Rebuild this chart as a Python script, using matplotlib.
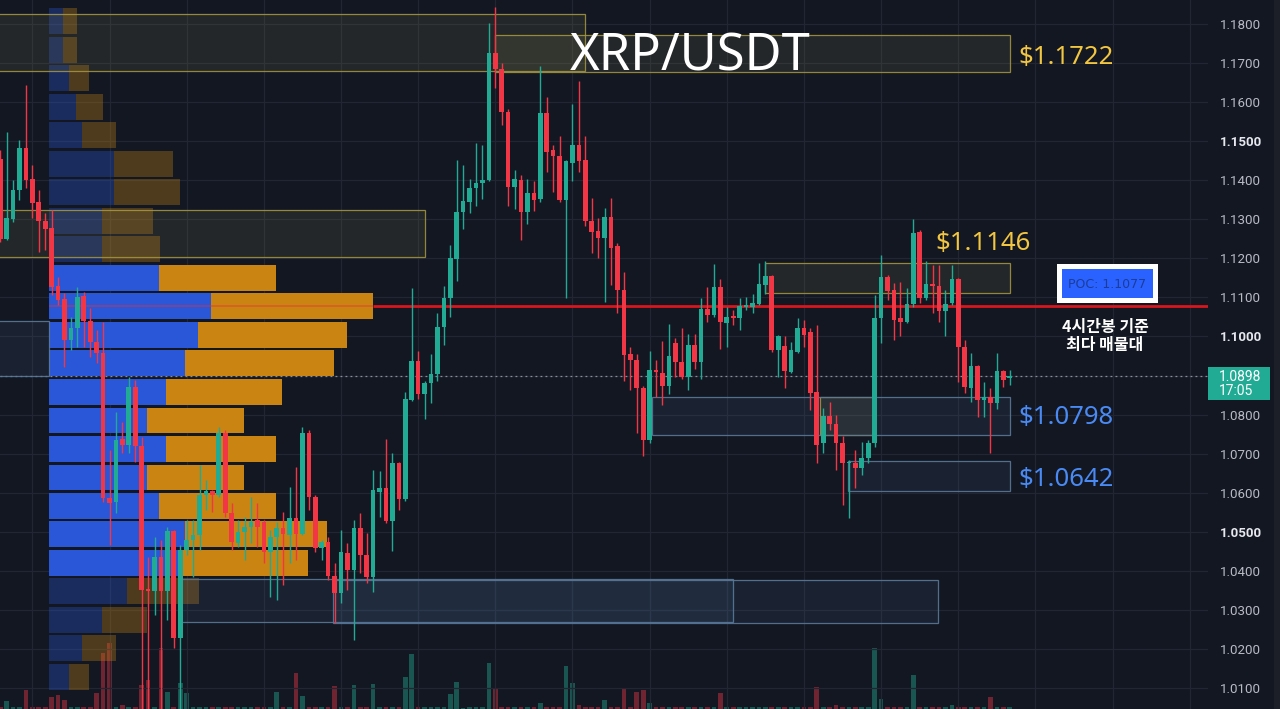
import matplotlib
matplotlib.use("Agg")
import matplotlib.pyplot as plt
from matplotlib.patches import Rectangle
import numpy as np

BG = "#131722"
GRID = "#222632"
UP = "#22ab94"
DOWN = "#f23645"
YEL = "#f2c641"
BLUE_TXT = "#4a8af4"
VP_BLUE = "#2a56d8"
VP_ORANGE = "#c98412"
W, H = 1280, 709

# 4h candles, oldest first
opens = [1.1454, 1.1250, 1.1301, 1.1375, 1.1483, 1.1403, 1.1344, 1.1296, 1.1278, 1.1129,
         1.1096, 1.0991, 1.1022, 1.1104, 1.1040, 1.0986, 1.0958, 1.0587, 1.0576, 1.0738,
         1.0722, 1.0871, 1.0720, 1.0354, 1.0348, 1.0435, 1.0348, 1.0502, 1.0228, 1.0453,
         1.0479, 1.0492, 1.0594, 1.0604, 1.0594, 1.0753, 1.0548, 1.0471, 1.0499, 1.0512,
         1.0530, 1.0525, 1.0448, 1.0487, 1.0510, 1.0492, 1.0535, 1.0494, 1.0753, 1.0589,
         1.0459, 1.0474, 1.0387, 1.0343, 1.0446, 1.0402, 1.0510, 1.0441, 1.0384, 1.0602,
         1.0612, 1.0528, 1.0676, 1.0584, 1.0837, 1.0937, 1.0853, 1.0881, 1.0904, 1.1024,
         1.1099, 1.1198, 1.1319, 1.1344, 1.1380, 1.1393, 1.1401, 1.1726, 1.1685, 1.1575,
         1.1383, 1.1401, 1.1319, 1.1367, 1.1352, 1.1572, 1.1477, 1.1462, 1.1349, 1.1444,
         1.1491, 1.1453, 1.1296, 1.1270, 1.1252, 1.1306, 1.1232, 1.1120, 1.0956, 1.0940,
         1.0868, 1.0735, 1.0915, 1.0907, 1.0874, 1.0983, 1.0935, 1.0896, 1.0978, 1.0935,
         1.1070, 1.1055, 1.1126, 1.1035, 1.1052, 1.1047, 1.1076, 1.1076, 1.1083, 1.1132,
         1.1155, 1.0965, 1.0976, 1.0910, 1.0961, 1.1021, 1.1012, 1.0859, 1.0727, 1.0797,
         1.0776, 1.0727, 1.0675, 1.0675, 1.0663, 1.0688, 1.0727, 1.1047, 1.1153, 1.1119,
         1.1047, 1.1038, 1.1083, 1.1267, 1.1098, 1.1134, 1.1129, 1.1064, 1.1085, 1.1147,
         1.0974, 1.0867, 1.0925, 1.0837, 1.0846, 1.0830, 1.0912, 1.0893]
highs = [1.1477, 1.1523, 1.1401, 1.1503, 1.1644, 1.1439, 1.1375, 1.1316, 1.1324, 1.1152,
         1.1111, 1.1050, 1.1127, 1.1114, 1.1073, 1.1017, 1.1037, 1.0709, 1.0807, 1.0781,
         1.0896, 1.0889, 1.0743, 1.0435, 1.0487, 1.0479, 1.0512, 1.0505, 1.0466, 1.0530,
         1.0530, 1.0671, 1.0633, 1.0607, 1.0768, 1.0761, 1.0574, 1.0530, 1.0538, 1.0589,
         1.0574, 1.0530, 1.0505, 1.0525, 1.0551, 1.0615, 1.0666, 1.0768, 1.0761, 1.0594,
         1.0479, 1.0487, 1.0420, 1.0505, 1.0471, 1.0530, 1.0548, 1.0497, 1.0658, 1.0656,
         1.0738, 1.0702, 1.0679, 1.0858, 1.1124, 1.0963, 1.0886, 1.0955, 1.1060, 1.1129,
         1.1234, 1.1452, 1.1439, 1.1403, 1.1495, 1.1490, 1.1803, 1.1843, 1.1700, 1.1582,
         1.1426, 1.1413, 1.1403, 1.1398, 1.1692, 1.1613, 1.1491, 1.1513, 1.1453, 1.1595,
         1.1655, 1.1513, 1.1355, 1.1303, 1.1328, 1.1355, 1.1240, 1.1164, 1.0973, 1.0956,
         1.0874, 1.0962, 1.0940, 1.0989, 1.1033, 1.0995, 1.1022, 1.1006, 1.1006, 1.1099,
         1.1126, 1.1186, 1.1147, 1.1076, 1.1068, 1.1099, 1.1102, 1.1110, 1.1187, 1.1192,
         1.1157, 1.1004, 1.1000, 1.0987, 1.1047, 1.1042, 1.1021, 1.1029, 1.0816, 1.0833,
         1.0799, 1.0744, 1.0684, 1.0709, 1.0731, 1.0735, 1.1106, 1.1209, 1.1157, 1.1136,
         1.1140, 1.1124, 1.1302, 1.1273, 1.1192, 1.1183, 1.1183, 1.1119, 1.1183, 1.1149,
         1.0991, 1.0957, 1.0927, 1.0884, 1.0867, 1.0958, 1.0914, 1.0914]
lows = [1.1242, 1.1247, 1.1293, 1.1349, 1.1380, 1.1303, 1.1216, 1.1221, 1.1106, 1.1081,
        1.0922, 1.0965, 1.0973, 1.0973, 1.0947, 1.0932, 1.0576, 1.0466, 1.0548, 1.0702,
        1.0702, 1.0679, 1.0020, 1.0020, 1.0287, 1.0020, 1.0274, 1.0203, 1.0020, 1.0441,
        1.0384, 1.0453, 1.0556, 1.0551, 1.0589, 1.0538, 1.0453, 1.0461, 1.0428, 1.0471,
        1.0461, 1.0420, 1.0333, 1.0325, 1.0364, 1.0420, 1.0428, 1.0492, 1.0556, 1.0448,
        1.0428, 1.0377, 1.0267, 1.0318, 1.0351, 1.0223, 1.0395, 1.0369, 1.0346, 1.0538,
        1.0523, 1.0451, 1.0556, 1.0580, 1.0835, 1.0840, 1.0789, 1.0830, 1.0886, 1.0978,
        1.1050, 1.1142, 1.1275, 1.1316, 1.1334, 1.1352, 1.1398, 1.1636, 1.1541, 1.1334,
        1.1326, 1.1247, 1.1288, 1.1321, 1.1344, 1.1421, 1.1371, 1.1344, 1.1099, 1.1398,
        1.1421, 1.1284, 1.1214, 1.1202, 1.1088, 1.1132, 1.1060, 1.0886, 1.0863, 1.0754,
        1.0694, 1.0727, 1.0844, 1.0825, 1.0853, 1.0896, 1.0891, 1.0863, 1.0918, 1.0891,
        1.1038, 1.1050, 1.0968, 1.0974, 1.1029, 1.1017, 1.1068, 1.1059, 1.1081, 1.1110,
        1.0961, 1.0897, 1.0867, 1.0906, 1.0957, 1.0974, 1.0812, 1.0675, 1.0701, 1.0761,
        1.0658, 1.0569, 1.0535, 1.0611, 1.0645, 1.0675, 1.0718, 1.0983, 1.1093, 1.0991,
        1.1000, 1.1034, 1.1076, 1.1085, 1.1093, 1.1059, 1.1038, 1.1000, 1.1081, 1.0884,
        1.0855, 1.0833, 1.0795, 1.0795, 1.0701, 1.0814, 1.0870, 1.0876]
closes = [1.1250, 1.1303, 1.1375, 1.1483, 1.1401, 1.1342, 1.1296, 1.1275, 1.1127, 1.1093,
          1.0991, 1.1022, 1.1101, 1.1040, 1.0986, 1.0958, 1.0587, 1.0574, 1.0735, 1.0722,
          1.0871, 1.0720, 1.0351, 1.0348, 1.0435, 1.0348, 1.0502, 1.0228, 1.0453, 1.0479,
          1.0492, 1.0594, 1.0604, 1.0594, 1.0753, 1.0548, 1.0474, 1.0499, 1.0512, 1.0525,
          1.0512, 1.0448, 1.0487, 1.0510, 1.0494, 1.0535, 1.0494, 1.0753, 1.0589, 1.0459,
          1.0474, 1.0387, 1.0343, 1.0448, 1.0402, 1.0510, 1.0441, 1.0384, 1.0607, 1.0612,
          1.0528, 1.0676, 1.0584, 1.0840, 1.0937, 1.0853, 1.0881, 1.0904, 1.1024, 1.1099,
          1.1201, 1.1319, 1.1347, 1.1380, 1.1393, 1.1401, 1.1726, 1.1685, 1.1575, 1.1383,
          1.1403, 1.1319, 1.1367, 1.1349, 1.1572, 1.1472, 1.1462, 1.1349, 1.1448, 1.1491,
          1.1448, 1.1296, 1.1267, 1.1252, 1.1306, 1.1227, 1.1120, 1.0953, 1.0940, 1.0868,
          1.0735, 1.0913, 1.0909, 1.0874, 1.0951, 1.0935, 1.0896, 1.0978, 1.0935, 1.1070,
          1.1055, 1.1126, 1.1038, 1.1051, 1.1047, 1.1078, 1.1081, 1.1085, 1.1134, 1.1155,
          1.0965, 1.1000, 1.0912, 1.0965, 1.1021, 1.1004, 1.0856, 1.0722, 1.0797, 1.0776,
          1.0727, 1.0675, 1.0679, 1.0663, 1.0688, 1.0727, 1.1047, 1.1153, 1.1117, 1.1042,
          1.1038, 1.1083, 1.1264, 1.1098, 1.1134, 1.1128, 1.1064, 1.1083, 1.1147, 1.0974,
          1.0871, 1.0925, 1.0837, 1.0846, 1.0830, 1.0912, 1.0888, 1.0898]
volume = [2, 8, 2, 2, 19, 2, 2, 2, 12, 14,
          9, 2, 2, 2, 2, 16, 56, 66, 2, 4,
          2, 2, 24, 29, 2, 61, 17, 2, 26, 16,
          2, 2, 2, 2, 2, 2, 2, 2, 2, 2,
          2, 2, 2, 17, 2, 2, 36, 13, 2, 2,
          2, 2, 23, 2, 2, 24, 2, 2, 25, 2,
          2, 2, 2, 32, 55, 2, 2, 2, 2, 2,
          15, 27, 1, 2, 2, 2, 46, 21, 2, 2,
          2, 2, 2, 2, 6, 2, 2, 2, 43, 26,
          4, 2, 2, 2, 9, 2, 2, 21, 2, 17,
          19, 6, 2, 2, 2, 2, 2, 2, 2, 2,
          2, 2, 16, 2, 2, 2, 2, 2, 2, 2,
          2, 2, 2, 2, 2, 2, 2, 22, 2, 2,
          4, 2, 2, 2, 2, 2, 61, 10, 2, 2,
          2, 2, 34, 2, 2, 2, 2, 2, 4, 2,
          2, 2, 2, 2, 12, 2, 2, 2]

# visible range volume profile (rows top -> bottom)
vp_price = [1.1807, 1.1734, 1.1661, 1.1588, 1.1515, 1.1442, 1.1369, 1.1296, 1.1223, 1.1150,
            1.1077, 1.1004, 1.0931, 1.0858, 1.0785, 1.0712, 1.0639, 1.0567, 1.0494, 1.0421,
            1.0348, 1.0275, 1.0202, 1.0129]
vp_up = [13.7, 13.7, 20, 26.7, 33.3, 65.3, 65.3, 52.7, 52.7, 110.3,
         162, 149, 136, 117, 97.7, 117, 97.7, 110.3, 136.3, 131,
         78.3, 52.7, 33.3, 20]
vp_down = [14.3, 14.3, 20, 27, 33.4, 58.7, 65.4, 51.6, 58.3, 117,
           161.7, 149.3, 149, 116.3, 97, 110.3, 97, 117, 142, 128.3,
           71.4, 45, 33.4, 20]
value_area = (9, 19)
poc = 1.1077
last_price = 1.0898

# (start candle, end candle, top, bottom)
supply_zones = [(-1, 91, 1.1826, 1.1680), (77, 157, 1.1772, 1.1677), (-1, 66, 1.1324, 1.1204),
                (119, 157, 1.1188, 1.1111), (127.5, 135.7, 1.0845, 1.0748)]
demand_zones = [(101.4, 157, 1.0845, 1.0748), (131.9, 157, 1.0681, 1.0604),
                (28.1, 114, 1.0379, 1.0269), (51.8, 145.9, 1.0377, 1.0267),
                (-1, 7.6, 1.1040, 1.0899)]

price_ticks = [round(1.01 + 0.01 * k, 2) for k in range(18)]

fig = plt.figure(figsize=(W / 100, H / 100), dpi=100)
fig.patch.set_facecolor(BG)
rect = [0, 0, 1208 / W, 1]
XMIN, XMAX = -0.03, 187.84
YMIN, YMAX = 1.00464, 1.18614

axv = fig.add_axes(rect)
ax = fig.add_axes(rect)
ax.patch.set_visible(False)
axv.set_facecolor(BG)
axv.set_xlim(XMIN, XMAX)
axv.set_ylim(0, H)
axv.axis("off")

x = np.arange(len(opens))
o, h, l, c = (np.array(v) for v in (opens, highs, lows, closes))
rising = c >= o
cols = np.where(rising, UP, DOWN)

axv.bar(x, volume, width=0.72, color=cols, alpha=0.42, linewidth=0)

ax.set_xlim(XMIN, XMAX)
ax.set_ylim(YMIN, YMAX)
for s in ax.spines.values():
    s.set_visible(False)
ax.set_xticks(np.arange(5, 188, 12))
ax.set_yticks(price_ticks)
ax.set_yticklabels([f"{t:.4f}" for t in price_ticks])
ax.yaxis.tick_right()
ax.tick_params(axis="x", length=0, labelbottom=False)
ax.tick_params(axis="y", length=0, pad=8.6, labelsize=9.6, labelcolor="#b8bbc4")
for lab, t in zip(ax.get_yticklabels(), price_ticks):
    lab.set_fontfamily("Roboto")
    if round(t * 100) % 5 == 0:
        lab.set_fontweight("bold")
        lab.set_color("#e6e8ee")
ax.grid(True, color=GRID, lw=0.9, zorder=0)
ax.set_axisbelow(True)

# last price dotted line
ax.axhline(last_price, color="#8a8e99", lw=0.9, ls=(0, (1.5, 2.5)), zorder=1)

# volume profile
vp_x0 = 7.6
tot = np.array(vp_up) + np.array(vp_down)
scale = 0.268 * (XMAX - XMIN) / tot.max()
row_h = 0.0073 * 0.91
for k, (p, u, d) in enumerate(zip(vp_price, vp_up, vp_down)):
    inside = value_area[0] <= k <= value_area[1]
    a = 1.0 if inside else 0.33
    ax.barh(p, u * scale, left=vp_x0, height=row_h, color=VP_BLUE, alpha=a, lw=0, zorder=2)
    ax.barh(p, d * scale, left=vp_x0 + u * scale, height=row_h, color=VP_ORANGE, alpha=a,
            lw=0, zorder=2)

# zones
for x1, x2, top, bot in supply_zones:
    ax.add_patch(Rectangle((x1, bot), x2 - x1, top - bot, facecolor="#a39c5c", alpha=0.12,
                           lw=0, zorder=3))
    ax.add_patch(Rectangle((x1, bot), x2 - x1, top - bot, facecolor="none",
                           edgecolor="#a89a40", lw=0.9, alpha=0.85, zorder=3))
for x1, x2, top, bot in demand_zones:
    ax.add_patch(Rectangle((x1, bot), x2 - x1, top - bot, facecolor="#5b86b8", alpha=0.1,
                           lw=0, zorder=3))
    ax.add_patch(Rectangle((x1, bot), x2 - x1, top - bot, facecolor="none",
                           edgecolor="#5a7899", lw=0.9, alpha=0.9, zorder=3))

# POC line
k_poc = vp_price.index(poc)
poc_end = vp_x0 + tot[k_poc] * scale
ax.hlines(poc, vp_x0, poc_end, color="#e8323c", lw=1.2, alpha=0.5, zorder=3.5)
ax.hlines(poc, poc_end, XMAX, color="#d8161e", lw=2.0, zorder=3.5)

# candles
ax.vlines(x, l, h, colors=cols, lw=1.0, zorder=5)
ax.bar(x, np.maximum(np.abs(c - o), 0.00025), bottom=np.minimum(o, c), width=0.72,
       color=cols, lw=0, zorder=5.1)


def fx(px):
    return px / W


def fy(py):
    return 1 - py / H


def fig_rect(x1, y1, x2, y2, **kw):
    fig.add_artist(Rectangle((fx(x1), fy(y2)), fx(x2 - x1), (y2 - y1) / H,
                             transform=fig.transFigure, **kw))


# right edge strip
fig_rect(1274, 0, 1280, H, facecolor="#1c1f28", lw=0)

# last price tag
fig_rect(1208, 367, 1270, 400, facecolor=UP, lw=0)
fig.text(fx(1219), fy(377), f"{last_price:.4f}", color="white", fontsize=10,
         family="Roboto", ha="left", va="center")
fig.text(fx(1219), fy(391), "17:05", color="white", fontsize=10, family="Roboto",
         ha="left", va="center")

# title
fig.text(fx(690), fy(57), "XRP/USDT", color="white", fontsize=36.5, family="Noto Sans",
         fontweight="medium", ha="center", va="center")

# level labels
for px, py, txt, col in [(1018, 57, "$1.1722", YEL), (935, 243, "$1.1146", YEL),
                         (1018, 418, "$1.0798", BLUE_TXT), (1018, 480, "$1.0642", BLUE_TXT)]:
    fig.text(fx(px), fy(py), txt, color=col, fontsize=18.5, family="Noto Sans",
             fontweight="semibold", ha="left", va="center")

# POC label box
fig_rect(1057, 264, 1158, 303, facecolor="white", lw=0)
fig_rect(1062, 269, 1153, 298, facecolor="#2962ff", lw=0)
fig.text(fx(1107.5), fy(284), f"POC: {poc:.4f}", color="#1d3c99", fontsize=9,
         ha="center", va="center")
fig.text(fx(1105), fy(336), "4시간봉 기준\n최다 매물대", color="white", fontsize=11.5,
         family=["Noto Sans CJK KR", "DejaVu Sans"], fontweight="bold", ha="center",
         va="center", linespacing=1.15)

fig.savefig("out.png", dpi=100, facecolor=BG)
